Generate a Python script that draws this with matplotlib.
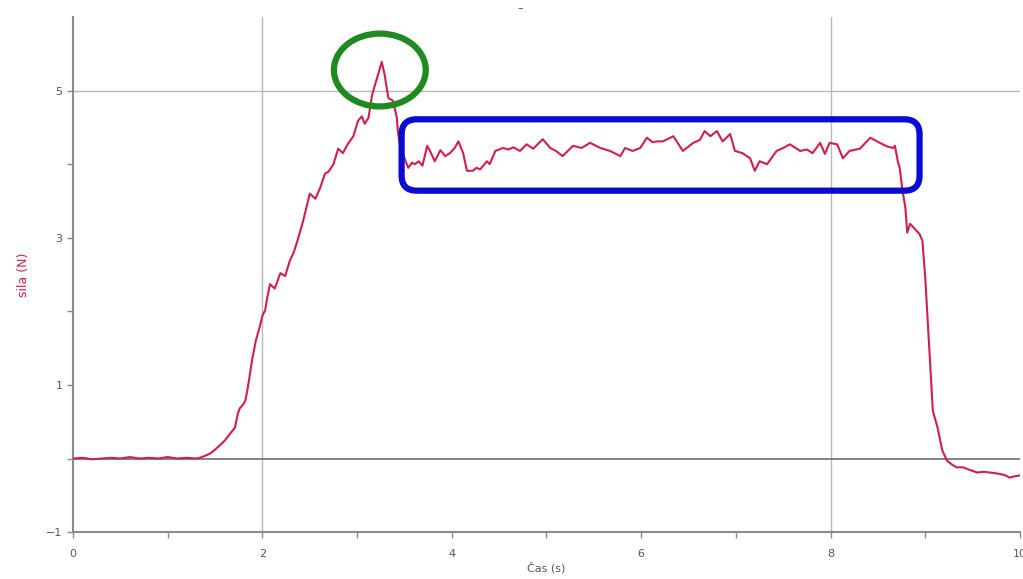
import matplotlib.pyplot as plt
from matplotlib.patches import Ellipse, FancyBboxPatch

# force sensor record: time (s) and force (N)
time_s = [0.0, 0.1, 0.2, 0.3, 0.4, 0.5, 0.6, 0.7, 0.8, 0.9, 1.0, 1.1, 1.2, 1.3,
          1.34, 1.40, 1.45, 1.50, 1.55, 1.60, 1.63, 1.66, 1.71, 1.74, 1.76,
          1.80, 1.82, 1.84, 1.86, 1.89, 1.93, 1.97, 2.00, 2.03, 2.05, 2.08,
          2.13, 2.19, 2.24, 2.29, 2.33, 2.37, 2.43, 2.50, 2.56, 2.61, 2.66,
          2.70, 2.75, 2.80, 2.85, 2.90, 2.96, 3.01, 3.05, 3.08, 3.12, 3.16,
          3.21, 3.26, 3.29, 3.33, 3.38, 3.42, 3.43, 3.45, 3.50, 3.54, 3.58,
          3.61, 3.65, 3.69, 3.74, 3.77, 3.82, 3.88, 3.93, 3.98, 4.03, 4.07,
          4.12, 4.16, 4.22, 4.26, 4.30, 4.37, 4.40, 4.46, 4.54, 4.60, 4.65,
          4.72, 4.79, 4.86, 4.96, 5.04, 5.10, 5.17, 5.28, 5.37, 5.46, 5.57,
          5.67, 5.78, 5.83, 5.91, 5.99, 6.06, 6.12, 6.17, 6.23, 6.34, 6.44,
          6.55, 6.62, 6.67, 6.73, 6.80, 6.86, 6.94, 6.99, 7.07, 7.15, 7.20,
          7.25, 7.33, 7.43, 7.50, 7.57, 7.68, 7.75, 7.81, 7.89, 7.94, 7.99,
          8.07, 8.13, 8.20, 8.31, 8.42, 8.52, 8.60, 8.66, 8.68, 8.71, 8.73,
          8.76, 8.79, 8.81, 8.84, 8.89, 8.94, 8.97, 9.00, 9.02, 9.05, 9.08,
          9.13, 9.18, 9.23, 9.28, 9.33, 9.40, 9.48, 9.55, 9.62, 9.68, 9.74,
          9.79, 9.85, 9.89, 9.95, 10.0]
force_n = [0.00, 0.01, -0.01, 0.00, 0.01, 0.00, 0.02, 0.00, 0.01, 0.00, 0.02,
           0.00, 0.01, 0.00,
           0.01, 0.04, 0.07, 0.12, 0.18, 0.24, 0.29, 0.34, 0.42, 0.61, 0.68,
           0.74, 0.79, 0.92, 1.08, 1.33, 1.60, 1.78, 1.94, 2.02, 2.18, 2.37,
           2.31, 2.52, 2.48, 2.69, 2.80, 2.96, 3.23, 3.60, 3.53, 3.68, 3.87,
           3.90, 4.00, 4.21, 4.15, 4.27, 4.38, 4.59, 4.65, 4.55, 4.63, 4.95,
           5.17, 5.39, 5.22, 4.90, 4.86, 4.63, 4.45, 4.27, 4.08, 3.95, 4.02,
           4.00, 4.04, 3.98, 4.25, 4.18, 4.04, 4.19, 4.11, 4.15, 4.22, 4.31,
           4.15, 3.91, 3.91, 3.95, 3.93, 4.04, 4.00, 4.18, 4.22, 4.20, 4.23,
           4.18, 4.27, 4.21, 4.34, 4.22, 4.18, 4.11, 4.25, 4.22, 4.29, 4.22,
           4.18, 4.11, 4.22, 4.18, 4.22, 4.36, 4.30, 4.31, 4.31, 4.38, 4.18,
           4.29, 4.33, 4.45, 4.38, 4.45, 4.31, 4.41, 4.18, 4.15, 4.08, 3.91,
           4.04, 4.00, 4.18, 4.22, 4.27, 4.18, 4.20, 4.15, 4.29, 4.14, 4.29,
           4.27, 4.08, 4.18, 4.21, 4.36, 4.29, 4.24, 4.22, 4.25, 4.04, 3.95,
           3.64, 3.41, 3.07, 3.19, 3.12, 3.05, 2.96, 2.46, 2.01, 1.33, 0.65,
           0.42, 0.11, -0.03, -0.08, -0.12, -0.12, -0.16, -0.19, -0.18, -0.19,
           -0.20, -0.21, -0.23, -0.26, -0.24, -0.23]

x_labels = [0, 2, 4, 6, 8, 10]
y_labels = [-1, 1, 3, 5]

line_color = '#d0204a'
grid_color = '#b8b8b8'
spine_color = '#8a8a8a'

fig = plt.figure(figsize=(10.23, 5.79), dpi=100)
ax = fig.add_axes([0.0714, 0.081, 0.9256, 0.8896])

ax.plot(time_s, force_n, color=line_color, lw=1.5, zorder=3)

# grid lines as in the logger screenshot
for gx in [2, 8]:
    ax.axvline(gx, color=grid_color, lw=1, zorder=1)
ax.axhline(5, color=grid_color, lw=1, zorder=1)
ax.axhline(0, color='#6e6e6e', lw=1.2, zorder=1)

ax.set_xlim(0, 10)
ax.set_ylim(-1, 6)
ax.set_xticks(x_labels)
ax.set_xticks(range(0, 11), minor=True)
ax.set_yticks(y_labels)
ax.set_yticks(range(-1, 6), minor=True)
ax.tick_params(which='both', direction='out', colors=spine_color,
               labelcolor='#555555', labelsize=8, length=4, width=1)
ax.tick_params(axis='x', pad=8)

for side in ['top', 'right']:
    ax.spines[side].set_visible(False)
for side in ['left', 'bottom']:
    ax.spines[side].set_color(spine_color)
    ax.spines[side].set_linewidth(1.5)

ax.set_xlabel('Čas (s)', fontsize=8, color='#555555', labelpad=2)
ax.set_ylabel('sila (N)', fontsize=9, color=line_color, labelpad=12)

# hand-drawn highlights
ax.add_patch(Ellipse((3.24, 5.28), 0.97, 0.99, fill=False,
                     edgecolor='#1f8a1f', lw=4.5, zorder=4))
ax.add_patch(FancyBboxPatch((3.47, 3.64), 5.47, 0.97,
                            boxstyle='round,pad=0,rounding_size=0.16',
                            mutation_aspect=1.29, fill=False,
                            edgecolor='#0a0ad0', lw=4.5, zorder=4))

fig.text(520 / 1023, 1 - 8 / 579, '–', fontsize=8, color='#444444',
         ha='center', va='center')

fig.savefig('out.png', dpi=100)
